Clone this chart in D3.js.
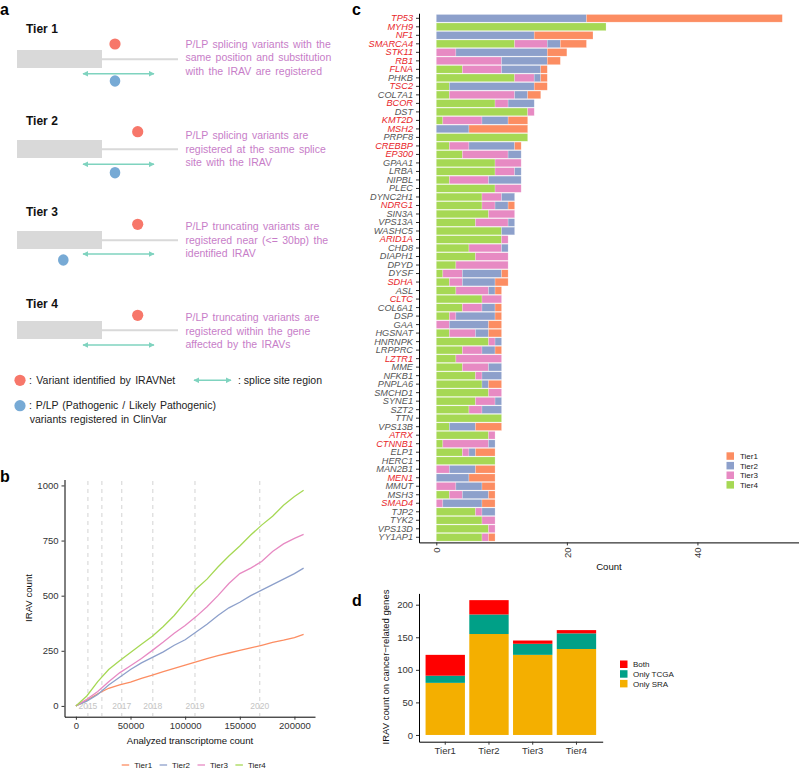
<!DOCTYPE html>
<html><head><meta charset="utf-8">
<script src="https://cdn.jsdelivr.net/npm/d3@7/dist/d3.min.js"></script>
<style>
body{margin:0;background:#fff;}
svg{display:block;font-family:"Liberation Sans",Arial,Helvetica,sans-serif;}
</style></head>
<body>
<div id="chart"></div>
<script>
// ---------- DATA ----------
// Panel b: cumulative IRAV count vs analyzed transcriptome count
const transcriptomeCounts = [0,10000,20000,30000,40000,50000,60000,70000,80000,90000,100000,110000,120000,130000,140000,150000,160000,170000,180000,190000,200000,208400];
const tier1Cum = [0,25,55,80,95,108,125,140,155,170,185,200,215,228,240,252,263,275,288,298,310,324];
const tier2Cum = [0,22,52,95,130,165,195,220,245,275,300,335,370,410,445,470,500,525,550,575,600,625];
const tier3Cum = [0,30,65,110,150,182,215,252,290,330,365,405,450,500,555,600,625,655,700,735,760,778];
const tier4Cum = [0,45,110,165,205,242,280,316,360,410,470,530,575,630,680,725,775,820,860,910,950,978];
const yearLinePositions = [11000,23800,42000,70400,109000,168300];
const yearLabels = ["2015","","2017","2018","2019","2020"];
const tierNames = ["Tier1","Tier2","Tier3","Tier4"];

// Panel c: IRAV count per gene by tier
const genes = ["TP53","MYH9","NF1","SMARCA4","STK11","RB1","FLNA","PHKB","TSC2","COL7A1","BCOR","DST","KMT2D","MSH2","PRPF8","CREBBP","EP300","GPAA1","LRBA","NIPBL","PLEC","DYNC2H1","NDRG1","SIN3A","VPS13A","WASHC5","ARID1A","CHD8","DIAPH1","DPYD","DYSF","SDHA","ASL","CLTC","COL6A1","DSP","GAA","HGSNAT","HNRNPK","LRPPRC","LZTR1","MME","NFKB1","PNPLA6","SMCHD1","SYNE1","SZT2","TTN","VPS13B","ATRX","CTNNB1","ELP1","HERC1","MAN2B1","MEN1","MMUT","MSH3","SMAD4","TJP2","TYK2","VPS13D","YY1AP1"];
const geneTier4 = [0,26,0,12,0,0,4,12,2,2,9,14,1,0,14,2,4,9,9,2,9,7,7,8,6,10,10,5,6,3,1,2,3,7,4,2,0,2,8,4,3,4,6,7,8,6,5,10,2,8,1,4,9,0,0,0,2,0,6,7,8,7];
const geneTier3 = [0,0,0,5,3,10,6,3,0,10,2,1,6,0,0,3,7,4,3,6,4,3,2,4,5,0,1,5,5,8,3,2,5,3,3,1,2,4,1,3,7,4,1,0,2,3,2,0,0,1,7,1,0,2,0,3,2,1,1,2,1,1];
const geneTier2 = [23,0,15,2,14,7,6,1,13,2,4,0,4,5,0,7,2,0,1,5,0,2,2,0,1,2,0,1,0,0,6,5,1,0,2,6,6,2,1,2,0,2,3,1,0,1,3,0,4,0,1,1,0,4,5,4,4,6,2,0,0,0];
const geneTier1 = [30,0,9,4,3,2,1,1,2,2,0,0,3,9,0,1,0,0,0,0,0,0,1,0,0,0,0,0,0,0,1,2,1,0,1,1,2,2,0,1,0,0,0,2,0,0,0,0,4,0,0,3,0,3,4,2,1,2,0,0,0,1];
const cancerGenes = ["TP53","MYH9","NF1","SMARCA4","STK11","RB1","FLNA","TSC2","BCOR","KMT2D","MSH2","CREBBP","EP300","NDRG1","ARID1A","SDHA","CLTC","LZTR1","ATRX","CTNNB1","MEN1","SMAD4"];
const countTicks = [0,20,40];

// Panel d: IRAV count on cancer-related genes
const dTiers = ["Tier1","Tier2","Tier3","Tier4"];
const onlySRA = [80,155,123,132];
const onlyTCGA = [11,30,17,24];
const bothSources = [32,22,5,5];
const sourceNames = ["Both","Only TCGA","Only SRA"];
const dTicks = [0,50,100,150,200];

// Panel a texts
const tierTexts = [
  ["P/LP splicing variants with the","same position and substitution","with the IRAV are registered"],
  ["P/LP splicing variants are","registered at the same splice","site with the IRAV"],
  ["P/LP truncating variants are","registered near (<= 30bp) the","identified IRAV"],
  ["P/LP truncating variants are","registered within the gene","affected by the IRAVs"]
];

// ---------- STYLE ----------
const tierColors = {Tier1:"#FC8D62",Tier2:"#8DA0CB",Tier3:"#E78AC3",Tier4:"#A6D854"};
const sourceColors = {"Both":"#FF0000","Only TCGA":"#00A087","Only SRA":"#F4AF00"};
const dotRed = "#F7776A", dotBlue = "#77AAD5", arrowCol = "#7FD3BF", textPurple = "#C77DC8", exonGrey = "#D9D9D9";

const svg = d3.select("#chart").append("svg").attr("width",799).attr("height",769);
svg.append("defs").append("marker").attr("id","ah").attr("viewBox","0 0 10 10")
  .attr("refX",9).attr("refY",5).attr("markerWidth",6).attr("markerHeight",6)
  .attr("orient","auto-start-reverse").attr("markerUnits","userSpaceOnUse")
  .append("path").attr("d","M0,0L10,5L0,10Z").attr("fill",arrowCol);

// panel labels
[["a",0,15],["b",0,482],["c",352,15],["d",352,606]].forEach(([t,x,y])=>{
  svg.append("text").attr("x",x).attr("y",y).text(t).attr("font-weight","bold").attr("font-size",16).attr("fill","#000");
});

// ---------- PANEL a ----------
const aLayout = [
  {head:33, exonTop:50, red:[115,44], blue:[115,81], arrowY:73.7, textY:44},
  {head:125, exonTop:140, red:[137.7,131.7], blue:[115,172.7], arrowY:164.3, textY:135.3},
  {head:216, exonTop:231, red:[137.7,224.3], blue:[63.3,260], arrowY:254, textY:226.5},
  {head:308, exonTop:321, red:[137.7,315.3], blue:null, arrowY:345, textY:317.5}
];
const gA = svg.append("g");
aLayout.forEach((L,i)=>{
  gA.append("text").attr("x",26).attr("y",L.head).text("Tier "+(i+1)).attr("font-weight","bold").attr("font-size",12).attr("fill","#111");
  gA.append("rect").attr("x",17).attr("y",L.exonTop).attr("width",85).attr("height",18).attr("fill",exonGrey);
  gA.append("line").attr("x1",102).attr("x2",178).attr("y1",L.exonTop+9.3).attr("y2",L.exonTop+9.3).attr("stroke",exonGrey).attr("stroke-width",2);
  gA.append("circle").attr("cx",L.red[0]).attr("cy",L.red[1]).attr("r",5.6).attr("fill",dotRed);
  if(L.blue) gA.append("ellipse").attr("cx",L.blue[0]).attr("cy",L.blue[1]).attr("rx",5.3).attr("ry",5.8).attr("fill",dotBlue);
  gA.append("line").attr("x1",83).attr("x2",154).attr("y1",L.arrowY).attr("y2",L.arrowY).attr("stroke",arrowCol).attr("stroke-width",1.4)
    .attr("marker-start","url(#ah)").attr("marker-end","url(#ah)");
  tierTexts[i].forEach((t,j)=>{
    gA.append("text").attr("x",185.5).attr("y",L.textY+j*13.6).attr("dy","0.35em").text(t)
      .attr("font-size",10.5).attr("fill",textPurple).attr("word-spacing",1.5);
  });
});
gA.append("circle").attr("cx",20).attr("cy",380.3).attr("r",5.6).attr("fill",dotRed);
gA.append("text").attr("x",29).attr("y",380.3).attr("dy","0.35em").text(": Variant identified  by IRAVNet").attr("font-size",10.5).attr("fill","#222").attr("word-spacing",1.5);
gA.append("line").attr("x1",194).attr("x2",231).attr("y1",380.3).attr("y2",380.3).attr("stroke",arrowCol).attr("stroke-width",1.4)
  .attr("marker-start","url(#ah)").attr("marker-end","url(#ah)");
gA.append("text").attr("x",238).attr("y",380.3).attr("dy","0.35em").text(": splice site region").attr("font-size",10.5).attr("fill","#222");
gA.append("circle").attr("cx",20).attr("cy",405.7).attr("r",5.6).attr("fill",dotBlue);
gA.append("text").attr("x",29).attr("y",405.7).attr("dy","0.35em").text(": P/LP (Pathogenic  / Likely Pathogenic)").attr("font-size",10.5).attr("fill","#222").attr("word-spacing",1);
gA.append("text").attr("x",29.7).attr("y",419).attr("dy","0.35em").text("variants registered in ClinVar").attr("font-size",10.5).attr("fill","#222").attr("word-spacing",1);

// ---------- PANEL b ----------
const gB = svg.append("g");
const bxMax = d3.max(transcriptomeCounts), byMax = d3.max(tier4Cum);
const xB = d3.scaleLinear().domain([-0.05*bxMax, 1.05*bxMax]).range([64.5,315]);
const yB = d3.scaleLinear().domain([-0.05*byMax, 1.05*byMax]).range([716.7,479.5]);
gB.selectAll("line.yr").data(yearLinePositions).join("line").attr("class","yr")
  .attr("x1",d=>xB(d)).attr("x2",d=>xB(d)).attr("y1",481).attr("y2",716)
  .attr("stroke","#D3D3D3").attr("stroke-width",1).attr("stroke-dasharray","4,4");
gB.selectAll("text.yr").data(yearLinePositions).join("text").attr("class","yr")
  .attr("x",d=>xB(d)).attr("y",yB(0)).attr("dy","0.35em").attr("text-anchor","middle")
  .text((d,i)=>yearLabels[i]).attr("font-size",8.5).attr("fill","#C4C4C4");
const seriesB = [tier1Cum,tier2Cum,tier3Cum,tier4Cum];
const lineB = d3.line().x((d,i)=>xB(transcriptomeCounts[i])).y(d=>yB(d));
seriesB.forEach((s,k)=>{
  gB.append("path").datum(s).attr("d",lineB).attr("fill","none").attr("stroke",tierColors[tierNames[k]]).attr("stroke-width",1.3);
});
const axBx = gB.append("g").attr("transform","translate(0,716.7)")
  .call(d3.axisBottom(xB).tickValues([0,50000,100000,150000,200000]).tickFormat(d3.format("d")).tickSize(3).tickSizeOuter(0));
const axBy = gB.append("g").attr("transform","translate(64.5,0)")
  .call(d3.axisLeft(yB).tickValues([0,250,500,750,1000]).tickFormat(d3.format("d")).tickSize(3).tickSizeOuter(0));
[axBx,axBy].forEach(a=>{
  a.select(".domain").attr("stroke","#000").attr("stroke-width",1);
  a.selectAll(".tick line").attr("stroke","#333");
  a.selectAll(".tick text").attr("font-size",9.5).attr("fill","#333").attr("font-family",null);
});
gB.append("text").attr("x",190).attr("y",744).attr("text-anchor","middle").text("Analyzed transcriptome count").attr("font-size",9.6).attr("fill","#111");
gB.append("text").attr("transform","translate(32,598) rotate(-90)").attr("text-anchor","middle").text("IRAV count").attr("font-size",9.6).attr("fill","#111");
const legB = gB.append("g");
tierNames.forEach((t,i)=>{
  const x0 = 121.7 + i*37.9;
  legB.append("line").attr("x1",x0).attr("x2",x0+7.5).attr("y1",765).attr("y2",765).attr("stroke",tierColors[t]).attr("stroke-width",1.3);
  legB.append("text").attr("x",x0+12.5).attr("y",765).attr("dy","0.35em").text(t).attr("font-size",8).attr("fill","#222");
});

// ---------- PANEL c ----------
const gC = svg.append("g");
const geneRows = genes.map((g,i)=>({gene:g,Tier1:geneTier1[i],Tier2:geneTier2[i],Tier3:geneTier3[i],Tier4:geneTier4[i]}));
const cMax = d3.max(geneRows,d=>d.Tier1+d.Tier2+d.Tier3+d.Tier4);
const xC = d3.scaleLinear().domain([-0.05*cMax, 1.05*cMax]).range([419,799.6]);
const yC = d3.scaleBand().domain(genes).range([13.2,542.4]).paddingInner(0.1).paddingOuter(0.15);
const stackC = d3.stack().keys(["Tier4","Tier3","Tier2","Tier1"])(geneRows);
gC.selectAll("g.layer").data(stackC).join("g").attr("class","layer")
  .attr("fill",d=>tierColors[d.key])
  .selectAll("rect").data(d=>d.filter(e=>e[1]>e[0])).join("rect")
  .attr("x",d=>xC(d[0])).attr("width",d=>xC(d[1])-xC(d[0]))
  .attr("y",d=>yC(d.data.gene)).attr("height",yC.bandwidth())
  .attr("stroke","#fff").attr("stroke-opacity",0.35).attr("stroke-width",0.6);
const axCx = gC.append("g").attr("transform","translate(0,542.4)")
  .call(d3.axisBottom(xC).tickValues(countTicks).tickSize(3).tickSizeOuter(0));
axCx.selectAll(".tick text").attr("transform","rotate(-90)").attr("text-anchor","end").attr("x",-5).attr("y",0).attr("dy","0.35em");
const axCy = gC.append("g").attr("transform","translate(419,0)")
  .call(d3.axisLeft(yC).tickSize(3).tickSizeOuter(0));
axCy.selectAll(".tick text").attr("font-style","italic").attr("font-size",9.2)
  .attr("fill",d=>cancerGenes.includes(d)?"#E8262A":"#555");
[axCx,axCy].forEach(a=>{
  a.select(".domain").attr("stroke","#000").attr("stroke-width",1);
  a.selectAll(".tick line").attr("stroke","#333");
  a.selectAll(".tick text").attr("font-family",null);
});
axCx.selectAll(".tick text").attr("font-size",9.5).attr("fill","#333");
gC.append("text").attr("x",609).attr("y",570).attr("text-anchor","middle").text("Count").attr("font-size",9.6).attr("fill","#111");
const legC = gC.append("g");
tierNames.forEach((t,i)=>{
  const y0 = 452.3 + i*9.6;
  legC.append("rect").attr("x",726.5).attr("y",y0).attr("width",7.5).attr("height",7.5).attr("fill",tierColors[t]);
  legC.append("text").attr("x",740).attr("y",y0+3.8).attr("dy","0.35em").text(t).attr("font-size",8).attr("fill","#222");
});

// ---------- PANEL d ----------
const gD = svg.append("g");
const dRows = dTiers.map((t,i)=>({tier:t,"Only SRA":onlySRA[i],"Only TCGA":onlyTCGA[i],"Both":bothSources[i]}));
const dMax = d3.max(dRows,d=>d["Only SRA"]+d["Only TCGA"]+d["Both"]);
const xD = d3.scaleBand().domain(dTiers).range([419,602.7]).paddingInner(0.1).paddingOuter(0.15);
const yD = d3.scaleLinear().domain([-0.05*dMax, 1.05*dMax]).range([741.7,593.4]);
const stackD = d3.stack().keys(["Only SRA","Only TCGA","Both"])(dRows);
gD.selectAll("g.layer").data(stackD).join("g").attr("class","layer")
  .attr("fill",d=>sourceColors[d.key])
  .selectAll("rect").data(d=>d).join("rect")
  .attr("x",d=>xD(d.data.tier)).attr("width",xD.bandwidth())
  .attr("y",d=>yD(d[1])).attr("height",d=>yD(d[0])-yD(d[1]));
const axDx = gD.append("g").attr("transform","translate(0,741.7)")
  .call(d3.axisBottom(xD).tickSize(3).tickSizeOuter(0));
const axDy = gD.append("g").attr("transform","translate(419,0)")
  .call(d3.axisLeft(yD).tickValues(dTicks).tickSize(3).tickSizeOuter(0));
[axDx,axDy].forEach(a=>{
  a.select(".domain").attr("stroke","#000").attr("stroke-width",1);
  a.selectAll(".tick line").attr("stroke","#333");
  a.selectAll(".tick text").attr("font-size",9.5).attr("fill","#333").attr("font-family",null);
});
gD.append("text").attr("transform","translate(389,667) rotate(-90)").attr("text-anchor","middle")
  .text("IRAV count on cancer\u2212related genes").attr("font-size",9.5).attr("fill","#111");
const legD = gD.append("g");
sourceNames.forEach((s,i)=>{
  const y0 = 660.5 + i*9.7;
  legD.append("rect").attr("x",620).attr("y",y0).attr("width",7.5).attr("height",7.5).attr("fill",sourceColors[s]);
  legD.append("text").attr("x",633).attr("y",y0+3.8).attr("dy","0.35em").text(s).attr("font-size",8).attr("fill","#222");
});
</script>
</body></html>
